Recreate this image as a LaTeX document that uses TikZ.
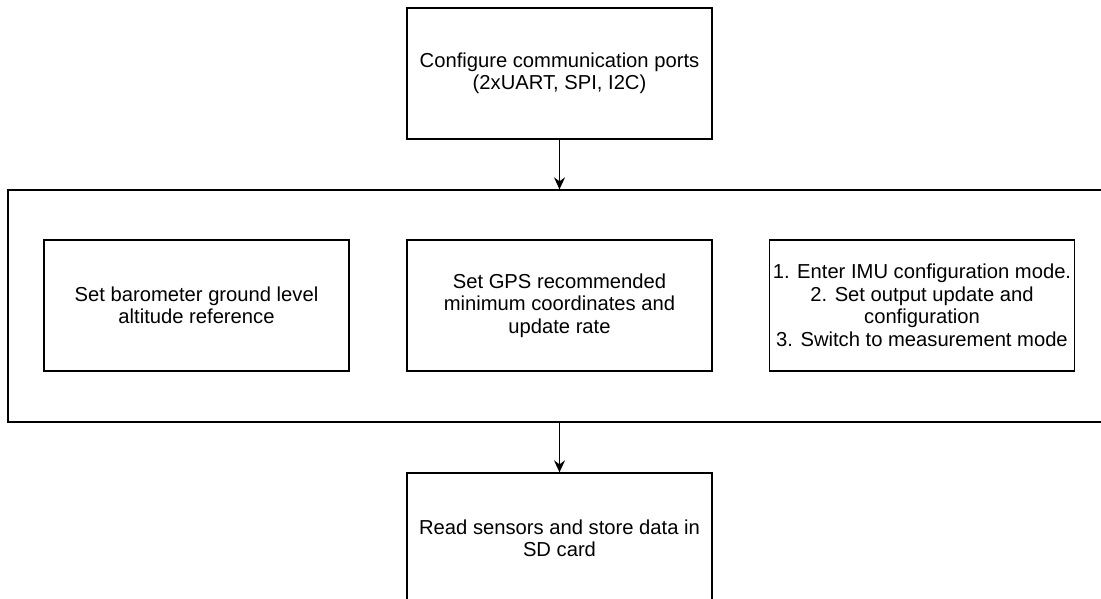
\documentclass[tikz,border=0pt]{standalone}
\usepackage{fontspec}
\setmainfont{Liberation Sans}
\usetikzlibrary{arrows.meta}

\tikzset{
  block/.style={draw, line width=1.3pt, minimum width=305pt, minimum height=131pt,
    inner sep=0pt, align=center, font=\fontsize{20.2}{22.5}\selectfont},
  group/.style={draw, line width=1.3pt, minimum width=1103pt, minimum height=232pt},
  flow/.style={-{Stealth[length=12pt,width=11pt,inset=4pt]}, line width=1.4pt},
}

\begin{document}
\begin{tikzpicture}[x=1pt, y=1pt]
    \useasboundingbox (0,0) rectangle (1101,-599);

    % ---------------------------------------------
    % port setup
    \node[block] (ports) at (559.5, -73.5)
      {Configure communication ports\\(2xUART, SPI, I2C)};

    % ---------------------------------------------
    % sensor setup, one box per sensor
    \node[group] (setup) at (559.5, -306) {};
    \node[block] (baro) at (196.5, -305.5)
      {Set barometer ground level\\altitude reference};
    \node[block] (gps) at (559.5, -305.5)
      {Set GPS recommended\\minimum coordinates and\\update rate};
    \node[block] (imu) at (922, -305.5)
      {1. Enter IMU configuration mode.\\2. Set output update and\\configuration\\3. Switch to measurement mode};

    % ---------------------------------------------
    % logging loop
    \node[block] (log) at (559.5, -538.5)
      {Read sensors and store data in\\SD card};

    \draw[flow] (ports) -- (setup);
    \draw[flow] (setup) -- (log);

\end{tikzpicture}
\end{document}
